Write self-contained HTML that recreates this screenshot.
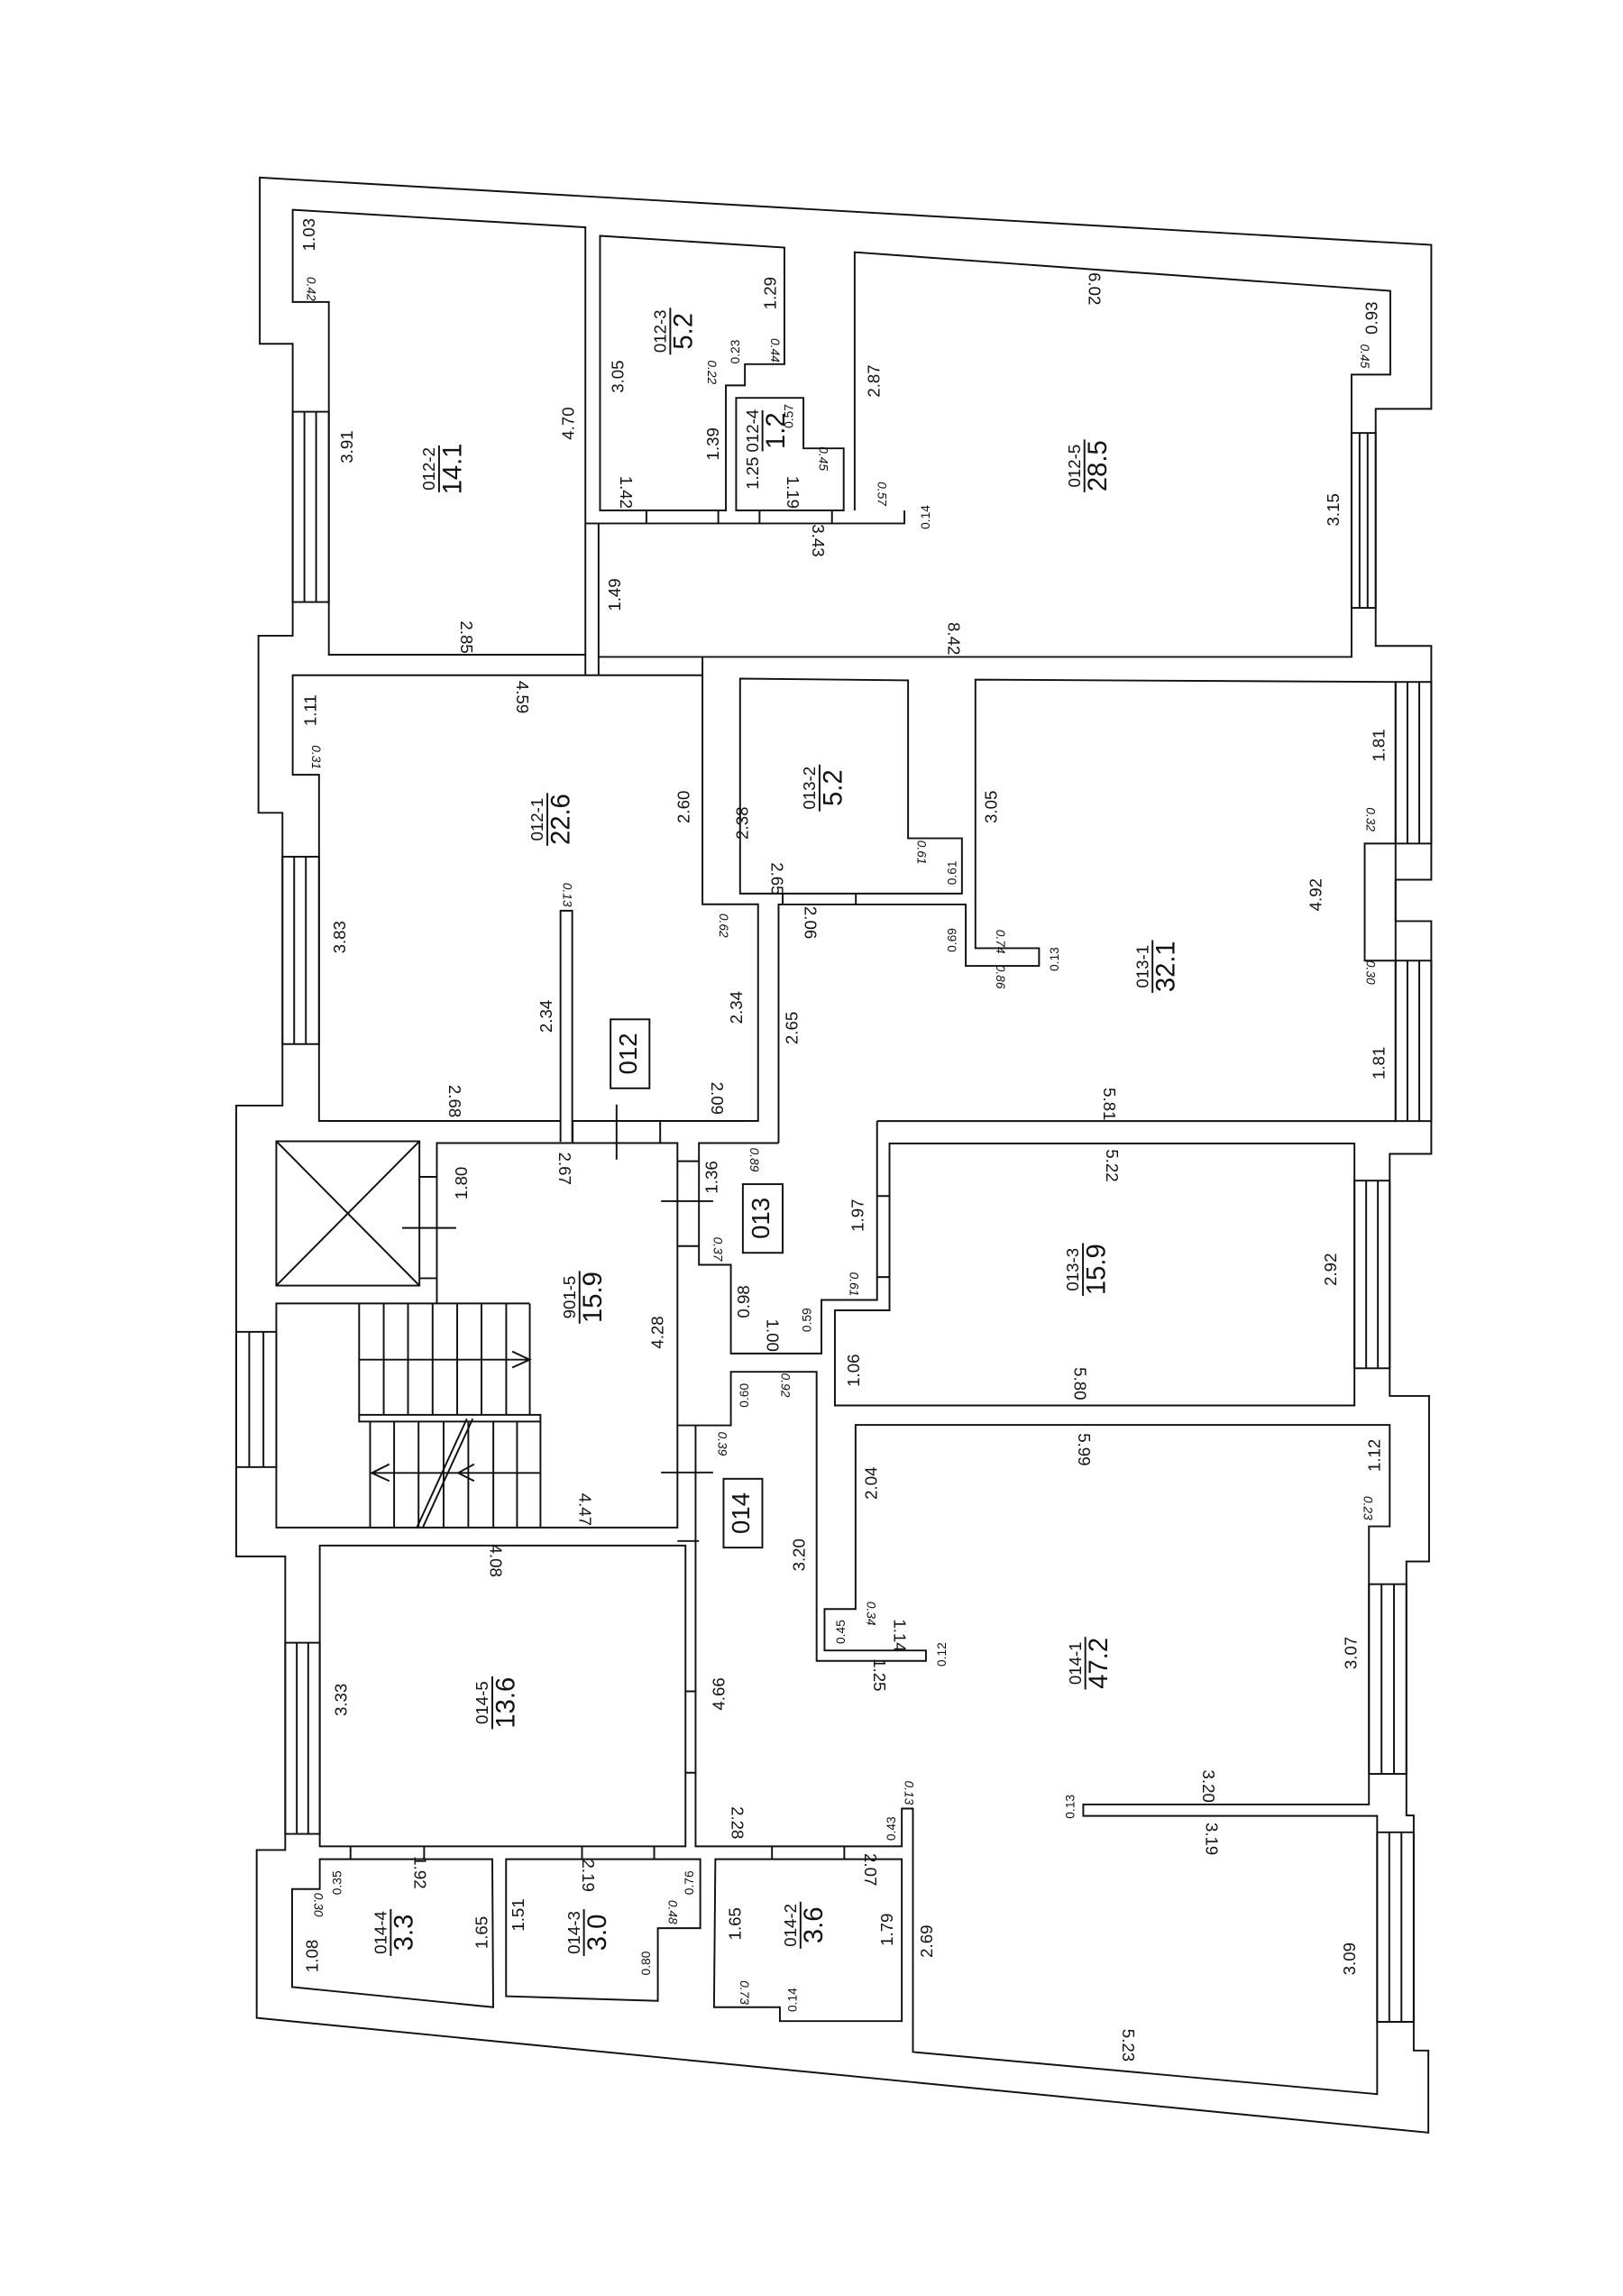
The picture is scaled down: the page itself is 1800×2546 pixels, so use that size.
<!DOCTYPE html>
<html><head><meta charset="utf-8"><style>
html,body{margin:0;padding:0;background:#fff;}
svg{display:block;}
text{font-family:"Liberation Sans",sans-serif;fill:#111;}
.d{font-size:11.5px;}
.s{font-size:8.5px;font-style:italic;}
.n{font-size:11.5px;}
.a{font-size:18px;}
</style></head><body>
<svg width="1800" height="2546" viewBox="0 0 1109 1568" xmlns="http://www.w3.org/2000/svg">
<rect width="1109" height="1568" fill="#fff"/>
<g fill="none" stroke="#111" stroke-width="1.2" stroke-linejoin="miter">
<path d="M177.5,121 L978,167 V279 H940 V441 H978 V600.7 H953.6 V629 H978 V788 H949.6 V953.4 H976.5 V1066.5 H961 V1240 H966 V1400.6 H976 V1456.7 L175.4,1378.3 V1263.6 H194.9 V1063 H161.4 V755 H193 V555 H176.6 V434 H200 V234.6 H177.5 Z"/>
<g>
<rect x="200" y="281" width="24.7" height="130"/><line x1="208" y1="281" x2="208" y2="411"/><line x1="216" y1="281" x2="216" y2="411"/>
<rect x="193" y="585" width="25" height="128"/><line x1="201" y1="585" x2="201" y2="713"/><line x1="209" y1="585" x2="209" y2="713"/>
<rect x="161.4" y="909.6" width="27.4" height="92.4"/><line x1="170.3" y1="909.6" x2="170.3" y2="1002"/><line x1="180" y1="909.6" x2="180" y2="1002"/>
<rect x="194.9" y="1122" width="23.6" height="130.6"/><line x1="202.8" y1="1122" x2="202.8" y2="1252.6"/><line x1="210.6" y1="1122" x2="210.6" y2="1252.6"/>
<rect x="923.5" y="295.5" width="16.5" height="119.5"/><line x1="929" y1="295.5" x2="929" y2="415"/><line x1="934.5" y1="295.5" x2="934.5" y2="415"/>
<rect x="953.6" y="465.6" width="24.4" height="110.4"/><line x1="961.7" y1="465.6" x2="961.7" y2="576"/><line x1="969.8" y1="465.6" x2="969.8" y2="576"/>
<rect x="953.6" y="656" width="24.4" height="109.6"/><line x1="961.7" y1="656" x2="961.7" y2="765.6"/><line x1="969.8" y1="656" x2="969.8" y2="765.6"/>
<rect x="925.5" y="806.3" width="24.1" height="128.2"/><line x1="933.5" y1="806.3" x2="933.5" y2="934.5"/><line x1="941.5" y1="806.3" x2="941.5" y2="934.5"/>
<rect x="935.4" y="1082" width="25.6" height="129.6"/><line x1="944" y1="1082" x2="944" y2="1211.6"/><line x1="952.5" y1="1082" x2="952.5" y2="1211.6"/>
<path d="M941,1251.5 L966,1251.5 L966,1381 L941,1381 Z"/><line x1="949.3" y1="1251.5" x2="949.3" y2="1381"/><line x1="957.6" y1="1251.5" x2="957.6" y2="1381"/>
</g>
<path d="M953.6,576 H932.5 V656 H953.6"/>
<path d="M200,143 L400,155 V447 H224.7 V206 H200 Z"/>
<path d="M410,160.8 L536,168.8 V248.5 H509 V263 H496 V348.4 H410 Z"/>
<path d="M503,271.5 H549 V306 H576.5 V348.4 H503 Z"/>
<path d="M400,357.3 H618 V348.4"/>
<path d="M441.7,348.4 V357.3 M490.8,348.4 V357.3 M519,348.4 V357.3 M568.5,348.4 V357.3"/>
<path d="M409,357.3 V461 M400,447 V461"/>
<path d="M584,348.4 V172 L950,198.4 V255.6 H923.5 V448.5 H409"/>
<path d="M383,765.5 H218 V529 H200 V461 H480 V617.5 H518 V765.5 H391"/>
<path d="M383,779.8 V621.9 H391 V779.8"/>
<path d="M480,448.5 V461"/>
<path d="M505.7,463.3 L620.5,464.5 V572.4 H657.3 V610.2 H505.7 Z"/>
<path d="M534.8,610.2 V617.6 M584.8,610.2 V617.6"/>
<path d="M532,780.6 V617.6 H659.9 V659.6 H710 V647.5 H666.5 V464 L953.6,465.6 V765.6 H599.3"/>
<path d="M532,780.6 H477.6 V863.8 H499.4 V924.4 H561.3 V887.8 H599.3 V765.6"/>
<path d="M462.9,793 H477.6 M462.9,851 H477.6"/>
<path d="M607.8,780.9 H925.5 V959.9 H570.5 V894.9 H607.8 Z"/>
<path d="M599.3,816.8 H607.8 M599.3,872.2 H607.8"/>
<path d="M298.5,890.2 V780.6 H462.9 V1043.3 H188.8 V890.2 H361.8"/>
<path d="M391.3,765.5 V780.6 M451.1,765.5 V780.6"/>
<line x1="421.3" y1="754.3" x2="421.3" y2="791.9"/>
<line x1="451.7" y1="820.3" x2="487.3" y2="820.3"/>
<line x1="451.7" y1="1005.7" x2="487.3" y2="1005.7"/>
<rect x="188.8" y="779.4" width="97.8" height="98.6"/>
<path d="M188.8,779.4 L286.6,878 M286.6,779.4 L188.8,878"/>
<path d="M286.6,803.7 H298.5 M286.6,873 H298.5"/>
<line x1="274.8" y1="838.6" x2="311.7" y2="838.6"/>
<path d="M245.4,890.2 V966.3 M262.2,890.2 V966.3 M278.8,890.2 V966.3 M295.6,890.2 V966.3 M312.4,890.2 V966.3 M329,890.2 V966.3 M345.9,890.2 V966.3 M362,890.2 V966.3"/>
<path d="M245.4,928.6 H362 M350,923 L362,928.6 L350,934"/>
<rect x="245.4" y="966.3" width="123.9" height="4.6"/>
<path d="M252.9,970.9 V1043.3 M269.3,970.9 V1043.3 M286,970.9 V1043.3 M303.1,970.9 V1043.3 M320,970.9 V1043.3 M337.1,970.9 V1043.3 M353.3,970.9 V1043.3 M369.3,970.9 V1043.3"/>
<path d="M254,1006 H369.3 M266,1000 L254,1006 L266,1011.5 M324,1000 L313,1006 L324,1011.5"/>
<path d="M285,1043 L319,969 M289,1043 L323,969"/>
<path d="M462.9,973.5 H499.4 V936.9 H558 V1134.4 H632.7 V1127.3 H563.4 V1099 H584.6 V973.2 H949.6 V1042.5 H935.4 V1232.5 H740.2 V1240.3 H941 V1430.4 L623.8,1401.6 V1235.3 H616.2 V1261.1 H475.3 V973.5"/>
<path d="M462.9,1052.5 H477.6"/>
<rect x="218.5" y="1055.6" width="249.9" height="205.5"/>
<path d="M468.4,1155.2 H475.3 M468.4,1210.8 H475.3"/>
<path d="M218.5,1269.9 H336.4 L337,1371 L199.6,1357.2 V1290.3 H218.5 Z"/>
<path d="M345.8,1269.9 H478.5 V1317 H449.5 V1366.7 L345.8,1363.5 Z"/>
<path d="M488.8,1269.9 H616.2 V1380.5 H532.9 V1371 H487.9 Z"/>
<path d="M239.5,1261.1 V1269.9 M289.8,1261.1 V1269.9 M397.7,1261.1 V1269.9 M447,1261.1 V1269.9 M527.5,1261.1 V1269.9 M576.9,1261.1 V1269.9"/>
<rect x="417.2" y="696.1" width="26.6" height="47.1"/>
<rect x="507.6" y="808.7" width="27.2" height="46.9"/>
<rect x="494.4" y="1010" width="26.5" height="47"/>
</g>
<g text-anchor="middle" dominant-baseline="middle">
<text transform="translate(430.5,719.6) rotate(-90)" style="font-size:17px">012</text>
<text transform="translate(521.2,832) rotate(-90)" style="font-size:17px">013</text>
<text transform="translate(507.6,1033.5) rotate(-90)" style="font-size:17px">014</text>
</g>
<g text-anchor="middle">
<g transform="translate(300,320) rotate(-90)"><text class="n" y="-3">012-2</text><line x1="-16" y1="0" x2="16" y2="0" stroke="#111" stroke-width="1.2"/><text class="a" y="15">14.1</text></g>
<g transform="translate(458,226) rotate(-90)"><text class="n" y="-3">012-3</text><line x1="-16" y1="0" x2="16" y2="0" stroke="#111" stroke-width="1.2"/><text class="a" y="15">5.2</text></g>
<g transform="translate(521,294) rotate(-90)"><text class="n" y="-3">012-4</text><line x1="-14" y1="0" x2="14" y2="0" stroke="#111" stroke-width="1.2"/><text class="a" y="15">1.2</text></g>
<g transform="translate(741,318) rotate(-90)"><text class="n" y="-3">012-5</text><line x1="-18" y1="0" x2="18" y2="0" stroke="#111" stroke-width="1.2"/><text class="a" y="15">28.5</text></g>
<g transform="translate(374,559.5) rotate(-90)"><text class="n" y="-3">012-1</text><line x1="-18" y1="0" x2="18" y2="0" stroke="#111" stroke-width="1.2"/><text class="a" y="15">22.6</text></g>
<g transform="translate(560,538) rotate(-90)"><text class="n" y="-3">013-2</text><line x1="-16" y1="0" x2="16" y2="0" stroke="#111" stroke-width="1.2"/><text class="a" y="15">5.2</text></g>
<g transform="translate(787.5,660) rotate(-90)"><text class="n" y="-3">013-1</text><line x1="-18" y1="0" x2="18" y2="0" stroke="#111" stroke-width="1.2"/><text class="a" y="15">32.1</text></g>
<g transform="translate(396,886) rotate(-90)"><text class="n" y="-3">901-5</text><line x1="-18" y1="0" x2="18" y2="0" stroke="#111" stroke-width="1.2"/><text class="a" y="15">15.9</text></g>
<g transform="translate(740,867) rotate(-90)"><text class="n" y="-3">013-3</text><line x1="-18" y1="0" x2="18" y2="0" stroke="#111" stroke-width="1.2"/><text class="a" y="15">15.9</text></g>
<g transform="translate(741.6,1136) rotate(-90)"><text class="n" y="-3">014-1</text><line x1="-18" y1="0" x2="18" y2="0" stroke="#111" stroke-width="1.2"/><text class="a" y="15">47.2</text></g>
<g transform="translate(336.4,1163) rotate(-90)"><text class="n" y="-3">014-5</text><line x1="-18" y1="0" x2="18" y2="0" stroke="#111" stroke-width="1.2"/><text class="a" y="15">13.6</text></g>
<g transform="translate(267,1320) rotate(-90)"><text class="n" y="-3">014-4</text><line x1="-16" y1="0" x2="16" y2="0" stroke="#111" stroke-width="1.2"/><text class="a" y="15">3.3</text></g>
<g transform="translate(399,1320) rotate(-90)"><text class="n" y="-3">014-3</text><line x1="-16" y1="0" x2="16" y2="0" stroke="#111" stroke-width="1.2"/><text class="a" y="15">3.0</text></g>
<g transform="translate(547,1315) rotate(-90)"><text class="n" y="-3">014-2</text><line x1="-16" y1="0" x2="16" y2="0" stroke="#111" stroke-width="1.2"/><text class="a" y="15">3.6</text></g>
</g>
<g class="d" text-anchor="middle" dominant-baseline="middle">
<text transform="translate(212,160) rotate(-90)">1.03</text>
<text transform="translate(238,305) rotate(-90)">3.91</text>
<text transform="translate(389,289) rotate(-90)">4.70</text>
<text transform="translate(423,257) rotate(-90)">3.05</text>
<text transform="translate(527,200) rotate(-90)">1.29</text>
<text transform="translate(488,303) rotate(-90)">1.39</text>
<text transform="translate(515,323) rotate(-90)">1.25</text>
<text transform="translate(598,260) rotate(-90)">2.87</text>
<text transform="translate(938,217) rotate(-90)">0.93</text>
<text transform="translate(912,348) rotate(-90)">3.15</text>
<text transform="translate(421,406) rotate(-90)">1.49</text>
<text transform="translate(213,485) rotate(-90)">1.11</text>
<text transform="translate(468,551) rotate(-90)">2.60</text>
<text transform="translate(233,640) rotate(-90)">3.83</text>
<text transform="translate(374,694) rotate(-90)">2.34</text>
<text transform="translate(504,688) rotate(-90)">2.34</text>
<text transform="translate(508,562) rotate(-90)">2.38</text>
<text transform="translate(542,702) rotate(-90)">2.65</text>
<text transform="translate(678,551) rotate(-90)">3.05</text>
<text transform="translate(943,509) rotate(-90)">1.81</text>
<text transform="translate(900,611) rotate(-90)">4.92</text>
<text transform="translate(943,726) rotate(-90)">1.81</text>
<text transform="translate(316,808) rotate(-90)">1.80</text>
<text transform="translate(450,910) rotate(-90)">4.28</text>
<text transform="translate(487,804) rotate(-90)">1.36</text>
<text transform="translate(509,889) rotate(-90)">0.98</text>
<text transform="translate(587,830) rotate(-90)">1.97</text>
<text transform="translate(584,936) rotate(-90)">1.06</text>
<text transform="translate(547,1062) rotate(-90)">3.20</text>
<text transform="translate(596,1013) rotate(-90)">2.04</text>
<text transform="translate(910,867) rotate(-90)">2.92</text>
<text transform="translate(940,994) rotate(-90)">1.12</text>
<text transform="translate(924,1129) rotate(-90)">3.07</text>
<text transform="translate(607,1318) rotate(-90)">1.79</text>
<text transform="translate(634,1326) rotate(-90)">2.69</text>
<text transform="translate(923,1338) rotate(-90)">3.09</text>
<text transform="translate(234,1161) rotate(-90)">3.33</text>
<text transform="translate(492,1157) rotate(-90)">4.66</text>
<text transform="translate(214,1336) rotate(-90)">1.08</text>
<text transform="translate(330,1320) rotate(-90)">1.65</text>
<text transform="translate(355,1308) rotate(-90)">1.51</text>
<text transform="translate(503,1314) rotate(-90)">1.65</text>
<text transform="translate(318,435) rotate(90)">2.85</text>
<text transform="translate(427,336) rotate(90)">1.42</text>
<text transform="translate(541,336) rotate(90)">1.19</text>
<text transform="translate(558,369) rotate(90)">3.43</text>
<text transform="translate(747,197) rotate(90)">6.02</text>
<text transform="translate(651,436) rotate(90)">8.42</text>
<text transform="translate(356,476) rotate(90)">4.59</text>
<text transform="translate(310,752) rotate(90)">2.68</text>
<text transform="translate(489,750) rotate(90)">2.09</text>
<text transform="translate(530,600) rotate(90)">2.65</text>
<text transform="translate(553,630) rotate(90)">2.06</text>
<text transform="translate(757,754) rotate(90)">5.81</text>
<text transform="translate(385,798) rotate(90)">2.67</text>
<text transform="translate(399,1031) rotate(90)">4.47</text>
<text transform="translate(527,912) rotate(90)">1.00</text>
<text transform="translate(338,1066) rotate(90)">4.08</text>
<text transform="translate(759,796) rotate(90)">5.22</text>
<text transform="translate(737,945) rotate(90)">5.80</text>
<text transform="translate(740,990) rotate(90)">5.99</text>
<text transform="translate(614,1117) rotate(90)">1.14</text>
<text transform="translate(600,1144) rotate(90)">1.25</text>
<text transform="translate(825,1220) rotate(90)">3.20</text>
<text transform="translate(827,1256) rotate(90)">3.19</text>
<text transform="translate(594,1277) rotate(90)">2.07</text>
<text transform="translate(770,1397) rotate(90)">5.23</text>
<text transform="translate(503,1245) rotate(90)">2.28</text>
<text transform="translate(286,1279) rotate(90)">1.92</text>
<text transform="translate(401,1281) rotate(90)">2.19</text>
</g>
<g class="s" text-anchor="middle" dominant-baseline="middle">
<text transform="translate(212,197) rotate(90)">0.42</text>
<text transform="translate(503,240) rotate(-90)" style="font-style:normal">0.23</text>
<text transform="translate(529,239) rotate(90)">0.44</text>
<text transform="translate(486,254) rotate(90)">0.22</text>
<text transform="translate(539.5,284) rotate(-90)" style="font-style:normal">0.57</text>
<text transform="translate(562,313) rotate(90)">0.45</text>
<text transform="translate(633,353) rotate(-90)" style="font-style:normal">0.14</text>
<text transform="translate(932,243) rotate(90)">0.45</text>
<text transform="translate(602,337) rotate(90)">0.57</text>
<text transform="translate(215.5,517) rotate(90)">0.31</text>
<text transform="translate(387,611) rotate(90)">0.13</text>
<text transform="translate(494,632) rotate(90)">0.62</text>
<text transform="translate(629,582) rotate(90)">0.61</text>
<text transform="translate(651,596) rotate(-90)" style="font-style:normal">0.61</text>
<text transform="translate(651,642) rotate(-90)" style="font-style:normal">0.69</text>
<text transform="translate(683,643) rotate(90)">0.74</text>
<text transform="translate(721,655) rotate(-90)" style="font-style:normal">0.13</text>
<text transform="translate(683,667) rotate(90)">0.86</text>
<text transform="translate(936,559.5) rotate(90)">0.32</text>
<text transform="translate(936,664) rotate(90)">0.30</text>
<text transform="translate(515,792) rotate(90)">0.89</text>
<text transform="translate(490,853) rotate(90)">0.37</text>
<text transform="translate(552,901.5) rotate(-90)" style="font-style:normal">0.59</text>
<text transform="translate(583,877) rotate(90)">0.61</text>
<text transform="translate(509,953) rotate(-90)" style="font-style:normal">0.60</text>
<text transform="translate(536,946) rotate(90)">0.92</text>
<text transform="translate(493,986) rotate(90)">0.39</text>
<text transform="translate(934,1030) rotate(90)">0.23</text>
<text transform="translate(575,1114.6) rotate(-90)" style="font-style:normal">0.45</text>
<text transform="translate(594.5,1102) rotate(90)">0.34</text>
<text transform="translate(644,1130) rotate(-90)" style="font-style:normal">0.12</text>
<text transform="translate(732,1234) rotate(-90)" style="font-style:normal">0.13</text>
<text transform="translate(620.5,1224.5) rotate(90)">0.13</text>
<text transform="translate(609.5,1249) rotate(-90)" style="font-style:normal">0.43</text>
<text transform="translate(231,1286) rotate(-90)" style="font-style:normal">0.35</text>
<text transform="translate(217,1301) rotate(90)">0.30</text>
<text transform="translate(471.5,1286) rotate(-90)" style="font-style:normal">0.76</text>
<text transform="translate(459,1306) rotate(90)">0.48</text>
<text transform="translate(442,1341) rotate(-90)" style="font-style:normal">0.80</text>
<text transform="translate(508,1361) rotate(90)">0.73</text>
<text transform="translate(542,1366) rotate(-90)" style="font-style:normal">0.14</text>
</g>
</svg>
</body></html>
